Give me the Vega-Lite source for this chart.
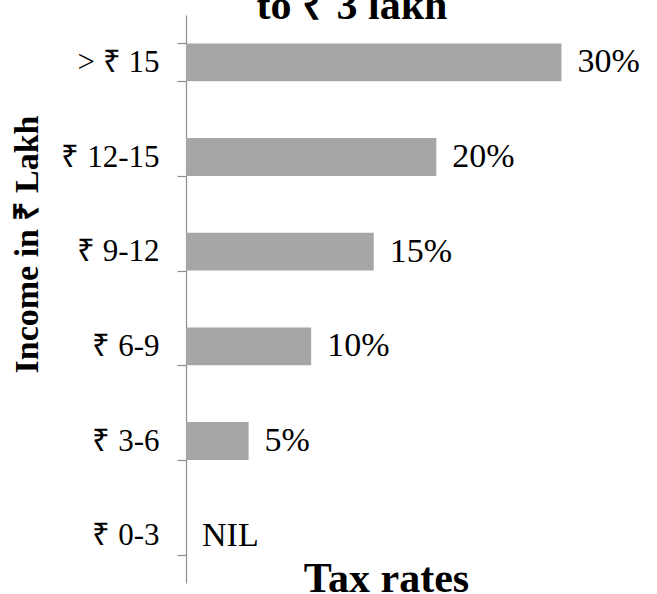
{
  "$schema": "https://vega.github.io/schema/vega-lite/v6.json",
  "autosize": {"type": "none"},
  "width": 388,
  "height": 568,
  "padding": {"left": 186, "top": 15, "right": 83, "bottom": 11},
  "background": "white",
  "title": {
    "text": "to ₹ 3 lakh",
    "font": "Liberation Serif",
    "fontSize": 42,
    "fontWeight": "bold",
    "color": "black",
    "anchor": "middle",
    "baseline": "alphabetic",
    "offset": -62,
    "dx": -28
  },
  "data": {
    "values": [
      {"income": "> ₹ 15", "rate": 30, "label": "30%"},
      {"income": "₹ 12-15", "rate": 20, "label": "20%"},
      {"income": "₹ 9-12", "rate": 15, "label": "15%"},
      {"income": "₹ 6-9", "rate": 10, "label": "10%"},
      {"income": "₹ 3-6", "rate": 5, "label": "5%"},
      {"income": "₹ 0-3", "rate": 0, "label": "NIL"}
    ]
  },
  "encoding": {
    "y": {
      "field": "income",
      "type": "nominal",
      "sort": null,
      "scale": {"paddingInner": 0.6, "paddingOuter": 0.3},
      "axis": {
        "title": "Income in ₹ Lakh",
        "titleFont": "Liberation Serif",
        "titleFontSize": 34,
        "titleFontWeight": "bold",
        "titleColor": "black",
        "titleAngle": -90,
        "titleBaseline": "alphabetic",
        "titleAlign": "center",
        "titleX": -149,
        "titleY": 229,
        "labelFont": "Liberation Serif",
        "labelFontSize": 31,
        "labelColor": "black",
        "labelPadding": 18,
        "tickBand": "extent",
        "tickSize": 9,
        "tickColor": "#8c8c8c",
        "domainColor": "#8c8c8c",
        "tickWidth": 1.2,
        "domainWidth": 1.2
      }
    },
    "x": {
      "field": "rate",
      "type": "quantitative",
      "scale": {"domain": [0, 31], "nice": false},
      "axis": {
        "title": "Tax rates",
        "titleFont": "Liberation Serif",
        "titleFontSize": 42,
        "titleFontWeight": "bold",
        "titleColor": "black",
        "titleBaseline": "alphabetic",
        "titleAlign": "center",
        "titleX": 200,
        "titleY": 8,
        "labels": false,
        "ticks": false,
        "domain": false,
        "grid": false
      }
    }
  },
  "layer": [
    {"mark": {"type": "bar", "color": "#a6a6a6"}},
    {
      "mark": {
        "type": "text",
        "align": "left",
        "baseline": "middle",
        "dx": 16,
        "font": "Liberation Serif",
        "fontSize": 34,
        "color": "black"
      },
      "encoding": {"text": {"field": "label"}}
    }
  ],
  "config": {"view": {"stroke": null}}
}
